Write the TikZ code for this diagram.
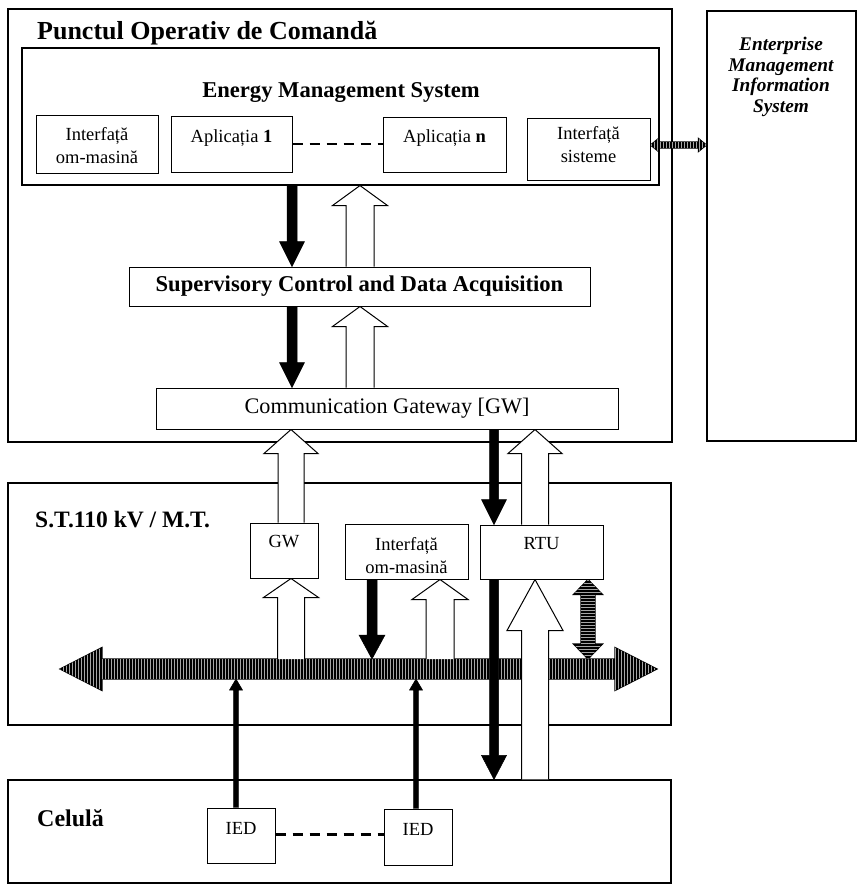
\documentclass[tikz,border=0pt]{standalone}
\usepackage{fontspec}
\setmainfont{Liberation Serif}
\usetikzlibrary{arrows.meta,patterns,calc}

\pgfdeclarelayer{frames}
\pgfdeclarelayer{links}
\pgfsetlayers{frames,links,main}

% vertical block arrows: #1 style, #2 base, #3 tip, #4 half shaft, #5 half head, #6 head length
\newcommand\blockup[6]{\filldraw[#1] let \p1=#2, \p2=#3 in
  (\x2-#4,\y1) -- (\x2-#4,\y2-#6) -- (\x2-#5,\y2-#6) -- (\x2,\y2)
  -- (\x2+#5,\y2-#6) -- (\x2+#4,\y2-#6) -- (\x2+#4,\y1);}
\newcommand\blockdown[6]{\filldraw[#1] let \p1=#2, \p2=#3 in
  (\x2-#4,\y1) -- (\x2-#4,\y2+#6) -- (\x2-#5,\y2+#6) -- (\x2,\y2)
  -- (\x2+#5,\y2+#6) -- (\x2+#4,\y2+#6) -- (\x2+#4,\y1);}
% double-headed block arrows: #1 style, #2 lower/left end, #3 upper/right end,
% #4 half shaft, #5 half head, #6 head length
\newcommand\blockvv[6]{\filldraw[#1] let \p1=#2, \p2=#3 in
  (\x1,\y1) -- (\x1-#5,\y1+#6) -- (\x1-#4,\y1+#6) -- (\x1-#4,\y2-#6)
  -- (\x1-#5,\y2-#6) -- (\x1,\y2) -- (\x1+#5,\y2-#6) -- (\x1+#4,\y2-#6)
  -- (\x1+#4,\y1+#6) -- (\x1+#5,\y1+#6) -- cycle;}
\newcommand\blockhh[6]{\filldraw[#1] let \p1=#2, \p2=#3 in
  (\x1,\y1) -- (\x1+#6,\y1+#5) -- (\x1+#6,\y1+#4) -- (\x2-#6,\y1+#4)
  -- (\x2-#6,\y1+#5) -- (\x2,\y1) -- (\x2-#6,\y1-#5) -- (\x2-#6,\y1-#4)
  -- (\x1+#6,\y1-#4) -- (\x1+#6,\y1-#5) -- cycle;}

\tikzset{
  frame/.style={draw, line width=1.1pt, rectangle, inner sep=0pt},
  box/.style={draw, fill=white, line width=1pt, rectangle, inner sep=0pt},
  lbl/.style={align=center, inner sep=0pt, font=\fontsize{18.5}{23}\selectfont},
  ttl/.style={inner sep=0pt},
  hollow/.style={draw=black, fill=white, line width=1pt},
  solid/.style={draw=black, fill=black, line width=0.5pt},
  hatchh/.style={draw=black, line width=1.2pt, fill=black,
    postaction={pattern=vertical lines, pattern color=black!35}},
  hatchv/.style={draw=black, line width=1.2pt, fill=black,
    postaction={pattern=horizontal lines, pattern color=black!35}},
  dashlink/.style={line width=2.5pt, dash pattern=on 10pt off 7pt},
}

\begin{document}
\begin{tikzpicture}[x=1pt, y=-1pt]
\useasboundingbox (0,0) rectangle (858,887);

% large frames
\begin{pgfonlayer}{frames}
\node[frame, minimum width=664pt, minimum height=433pt] (poc) at (340,225.5) {};
\node[frame, minimum width=637pt, minimum height=137pt] (ems) at (340.5,116.5) {};
\node[frame, minimum width=149pt, minimum height=430pt] (ent) at (781.5,226) {};
\node[frame, minimum width=663pt, minimum height=242pt] (st) at (339.5,604) {};
\node[frame, minimum width=663pt, minimum height=103pt] (cel) at (339.5,831.5) {};
\end{pgfonlayer}

% frame titles
\node[ttl, anchor=base west, font=\bfseries\fontsize{26}{30}\selectfont] (tpoc) at (37,39) {Punctul Operativ de Comandă};
\node[ttl, anchor=base, font=\bfseries\fontsize{22.6}{26}\selectfont] (tems) at (341,97) {Energy Management System};
\node[ttl, anchor=base west, font=\bfseries\fontsize{23.5}{28}\selectfont] (tst) at (35,527) {S.T.110 kV / M.T.};
\node[ttl, anchor=base west, font=\bfseries\fontsize{24}{28}\selectfont] (tcel) at (37,826) {Celulă};
\node[ttl, align=center, font=\bfseries\itshape\fontsize{19.3}{20.7}\selectfont] (tent) at (781,77) {Enterprise\\Management\\Information\\System};

% EMS modules
\node[box, minimum width=122pt, minimum height=58pt, label={[lbl,yshift=-2pt]center:Interfață\\om-masină}] (hmi1) at (97,144) {};
\node[box, minimum width=121pt, minimum height=56pt, label={[lbl,yshift=6pt]center:Aplicația \textbf{1}}] (app1) at (231.5,144) {};
\node[box, minimum width=123pt, minimum height=55pt, label={[lbl,yshift=6.5pt]center:Aplicația \textbf{n}}] (appn) at (444.5,144.5) {};
\node[box, minimum width=123pt, minimum height=62pt, label={[lbl,yshift=4.5pt]center:Interfață\\sisteme}] (sis) at (588.5,149) {};

% control centre chain
\node[box, minimum width=461pt, minimum height=39pt, font=\bfseries\fontsize{22.6}{26}\selectfont] (scada) at (359.5,286.5) {Supervisory Control and Data Acquisition};
\node[box, minimum width=462pt, minimum height=41pt, font=\fontsize{22.2}{26}\selectfont] (gw) at (387,408.5) {Communication Gateway [GW]};

% substation devices
\node[box, minimum width=68pt, minimum height=55pt, label={[lbl,yshift=8.5pt]center:GW}] (gwst) at (284,550.5) {};
\node[box, minimum width=123pt, minimum height=55pt, label={[lbl,yshift=-4.5pt]center:Interfață\\om-masină}] (hmi2) at (406.5,551.5) {};
\node[box, minimum width=123pt, minimum height=54pt, label={[lbl,yshift=8pt]center:RTU}] (rtu) at (541.5,552) {};

% bay devices
\node[box, minimum width=68pt, minimum height=55pt, label={[lbl,yshift=7.5pt]center:IED}] (ied1) at (241,835.5) {};
\node[box, minimum width=68pt, minimum height=56pt, label={[lbl,yshift=8pt]center:IED}] (ied2) at (418,837) {};

% reference columns and bus levels
\coordinate (xA) at (292,0);
\coordinate (xB) at (360,0);
\coordinate (xC) at (291,0);
\coordinate (xD) at (494,0);
\coordinate (xE) at (535,0);
\coordinate (xF) at (372,0);
\coordinate (xG) at (440,0);
\coordinate (xH) at (236,0);
\coordinate (xI) at (416,0);
\coordinate (xJ) at (588,0);
\coordinate (yS) at (0,145);
\coordinate (busL) at (60,669);
\coordinate (busR) at (657,669);
\coordinate (busT) at (0,659);
\coordinate (busB) at (0,679);

\begin{pgfonlayer}{links}
% station bus
\blockhh{hatchh}{(busL)}{(busR)}{10pt}{21.5pt}{42pt}
% EMS <-> enterprise system
\blockhh{hatchh}{(sis.east |- yS)}{(ent.west |- yS)}{3pt}{6.5pt}{8pt}
% EMS / SCADA / gateway
\blockdown{solid}{(ems.south -| xA)}{(scada.north -| xA)}{5pt}{12.5pt}{25pt}
\blockup{hollow}{(scada.north -| xB)}{(ems.south -| xB)}{14pt}{27.5pt}{20pt}
\blockdown{solid}{(scada.south -| xA)}{(gw.north -| xA)}{5pt}{12.5pt}{25pt}
\blockup{hollow}{(gw.north -| xB)}{(scada.south -| xB)}{14pt}{27.5pt}{20pt}
% gateway / substation
\blockup{hollow}{(gwst.north -| xC)}{(gw.south -| xC)}{13pt}{27pt}{24pt}
\blockdown{solid}{(gw.south -| xD)}{(rtu.north -| xD)}{4.5pt}{12.5pt}{25pt}
\blockup{hollow}{(rtu.north -| xE)}{(gw.south -| xE)}{13.5pt}{27pt}{24pt}
% substation bus links
\blockup{hollow}{(busT -| xC)}{(gwst.south -| xC)}{13.5pt}{27.5pt}{19pt}
\blockdown{solid}{(hmi2.south -| xF)}{(busT -| xF)}{5pt}{13pt}{24pt}
\blockup{hollow}{(busT -| xG)}{(hmi2.south -| xG)}{14pt}{28pt}{20pt}
\blockvv{hatchv}{(busT -| xJ)}{(rtu.south -| xJ)}{7pt}{14.5pt}{15pt}
% RTU / bay
\blockup{hollow}{(cel.north -| xE)}{(rtu.south -| xE)}{13.5pt}{28pt}{51pt}
\blockdown{solid}{(rtu.south -| xD)}{(cel.north -| xD)}{4.5pt}{12.5pt}{24pt}
\blockup{solid}{(ied1.north -| xH)}{(busB -| xH)}{2.3pt}{6.5pt}{11pt}
\blockup{solid}{(ied2.north -| xI)}{(busB -| xI)}{2.3pt}{6.5pt}{11pt}
\end{pgfonlayer}

% dashed links between parallel modules
\draw[dashlink] (app1.east) -- (app1.east -| appn.west);
\draw[dashlink, line width=3pt] (ied1.east |- 0,834) -- (ied2.west |- 0,834);
\end{tikzpicture}
\end{document}
